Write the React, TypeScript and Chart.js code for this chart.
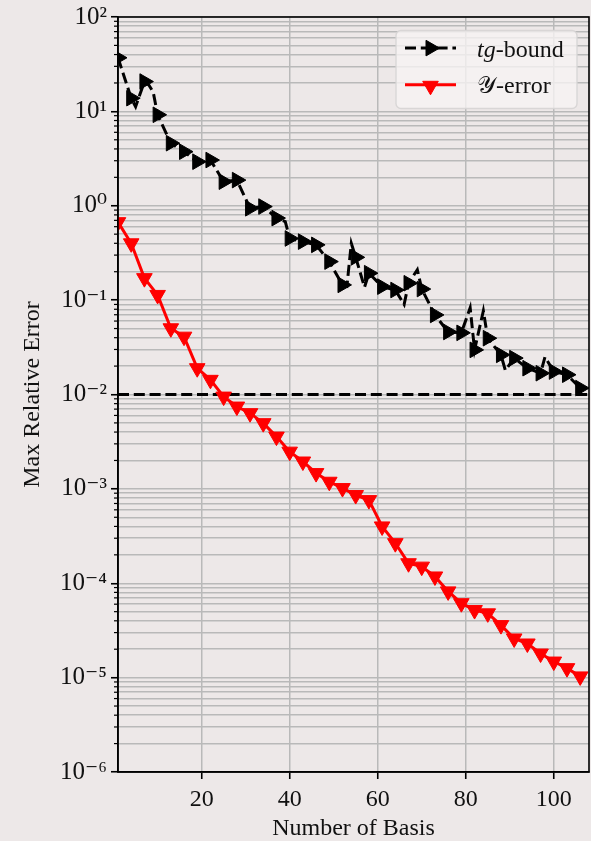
import React, { useEffect, useRef } from 'react';
import { Chart, registerables } from 'chart.js';

Chart.register(...registerables);

// ---------- data ----------
const markerBasis = [1, 4, 7, 10, 13, 16, 19, 22, 25, 28, 31, 34, 37, 40, 43, 46, 49, 52, 55, 58, 61, 64, 67, 70, 73, 76, 79, 82, 85, 88, 91, 94, 97, 100, 103, 106];

const yErrorValues = [0.67, 0.40, 0.171, 0.1135, 0.0503, 0.041, 0.019, 0.0143, 0.0095, 0.00745, 0.00634, 0.00497, 0.00358, 0.00248, 0.00195, 0.00147, 0.00119, 0.00102, 0.00086, 0.00076, 0.00040, 0.000266, 0.000163, 0.000150, 0.000118, 8.2e-5, 6.15e-5, 5.2e-5, 4.8e-5, 3.6e-5, 2.6e-5, 2.3e-5, 1.8e-5, 1.48e-5, 1.26e-5, 1.03e-5];

const tgBasis = [1, 4, 5, 7, 8, 9, 10, 13, 16, 19, 22, 25, 28, 31, 34, 37, 39, 40, 43, 46, 49, 52, 53, 54, 55, 57, 58, 61, 64, 66, 67, 69, 70, 73, 76, 79, 81, 82, 84, 85, 88, 89, 91, 94, 97, 98, 100, 103, 106];
const tgValues = [37, 13.8, 11.2, 20.7, 19, 16, 9.2, 4.6, 3.74, 2.93, 3.05, 1.8, 1.87, 0.94, 0.98, 0.74, 0.68, 0.45, 0.417, 0.385, 0.256, 0.145, 0.14, 0.40, 0.284, 0.137, 0.193, 0.139, 0.128, 0.09, 0.151, 0.21, 0.131, 0.0697, 0.046, 0.045, 0.083, 0.0297, 0.077, 0.0395, 0.0263, 0.018, 0.0243, 0.019, 0.0168, 0.025, 0.0175, 0.0162, 0.0117];

const thresholdValue = 0.01;
const xLimits = [1, 108];
const xTickValues = [20, 40, 60, 80, 100];
const yDecades = [-6, -5, -4, -3, -2, -1, 0, 1, 2];
const yTickLabels = ['10⁻⁶', '10⁻⁵', '10⁻⁴', '10⁻³', '10⁻²', '10⁻¹', '10⁰', '10¹', '10²'];
const yMinorMultipliers = [2, 3, 4, 5, 6, 7, 8, 9];

const xTitle = 'Number of Basis';
const yTitle = 'Max Relative Error';

// ---------- styles ----------
const BG = '#ede8e8';
const GRID = '#b9b9b9';
const FONT = "'Liberation Serif', 'Times New Roman', 'DejaVu Serif', serif";
const DASH = [11, 4.8];
const MARK_R = 9;

function isDecade(v: number) {
  const l = Math.log10(v);
  return Math.abs(l - Math.round(l)) < 1e-9;
}

const bgPlugin = {
  id: 'bg',
  beforeDraw(chart: any) {
    const { ctx, width, height } = chart;
    ctx.save();
    ctx.fillStyle = BG;
    ctx.fillRect(0, 0, width, height);
    ctx.restore();
  },
};

const framePlugin = {
  id: 'frame',
  afterDatasetsDraw(chart: any) {
    const { ctx, chartArea } = chart;
    const y = chart.scales.y;
    ctx.save();
    ctx.strokeStyle = '#000';
    ctx.lineWidth = 1.2;
    y.ticks.forEach((t: any) => {
      if (t.major) return;
      const py = y.getPixelForValue(t.value);
      ctx.beginPath();
      ctx.moveTo(chartArea.left - 4, py);
      ctx.lineTo(chartArea.left, py);
      ctx.stroke();
    });
    ctx.lineWidth = 1.6;
    ctx.strokeRect(chartArea.left, chartArea.top, chartArea.right - chartArea.left, chartArea.bottom - chartArea.top);
    ctx.restore();
  },
};

function drawTri(ctx: CanvasRenderingContext2D, x: number, y: number, r: number, deg: number, color: string) {
  let rad = (deg * Math.PI) / 180;
  ctx.beginPath();
  ctx.moveTo(x + Math.sin(rad) * r, y - Math.cos(rad) * r);
  rad += (2 * Math.PI) / 3;
  ctx.lineTo(x + Math.sin(rad) * r, y - Math.cos(rad) * r);
  rad += (2 * Math.PI) / 3;
  ctx.lineTo(x + Math.sin(rad) * r, y - Math.cos(rad) * r);
  ctx.closePath();
  ctx.fillStyle = color;
  ctx.fill();
  ctx.setLineDash([]);
  ctx.lineWidth = 1;
  ctx.strokeStyle = color;
  ctx.stroke();
}

const legendPlugin = {
  id: 'mplLegend',
  afterDraw(chart: any) {
    const { ctx, chartArea } = chart;
    const w = 181;
    const h = 78;
    const right = chartArea.right - 12;
    const left = right - w;
    const top = chartArea.top + 13.5;
    ctx.save();
    ctx.beginPath();
    (ctx as any).roundRect(left, top, w, h, 5);
    ctx.fillStyle = 'rgba(246,243,243,0.8)';
    ctx.fill();
    ctx.lineWidth = 1.4;
    ctx.strokeStyle = 'rgba(214,212,212,0.9)';
    ctx.stroke();

    const x0 = left + 9;
    const x1 = left + 60;
    const xm = (x0 + x1) / 2;
    const tx = left + 81;
    const y1 = top + 17.6;
    const y2 = top + 54.3;

    ctx.beginPath();
    ctx.setLineDash(DASH);
    ctx.lineWidth = 3;
    ctx.strokeStyle = '#000';
    ctx.moveTo(x0, y1);
    ctx.lineTo(x1, y1);
    ctx.stroke();
    drawTri(ctx, xm, y1, MARK_R, 90, '#000');

    ctx.beginPath();
    ctx.setLineDash([]);
    ctx.lineWidth = 3;
    ctx.strokeStyle = '#ff0000';
    ctx.moveTo(x0, y2);
    ctx.lineTo(x1, y2);
    ctx.stroke();
    drawTri(ctx, xm, y2 + 1, MARK_R, 180, '#ff0000');

    ctx.fillStyle = '#111';
    ctx.textBaseline = 'alphabetic';
    ctx.textAlign = 'left';
    ctx.font = `italic 24px ${FONT}`;
    ctx.fillText('tg', tx, y1 + 8.4);
    const wt = ctx.measureText('tg').width;
    ctx.font = `24px ${FONT}`;
    ctx.fillText('-bound', tx + wt, y1 + 8.4);

    ctx.font = `24px 'DejaVu Serif', 'DejaVu Sans', ${FONT}`;
    ctx.fillText('𝒴', tx, y2 + 8.4);
    const wy = ctx.measureText('𝒴').width;
    ctx.font = `24px ${FONT}`;
    ctx.fillText('-error', tx + wy, y2 + 8.4);
    ctx.restore();
  },
};

export default function App() {
  const ref = useRef<HTMLCanvasElement | null>(null);

  useEffect(() => {
    const canvas = ref.current;
    if (!canvas) return;
    const markerSet = new Set(markerBasis);

    const yTicks: { value: number; major: boolean }[] = [];
    yDecades.forEach((e, i) => {
      yTicks.push({ value: Math.pow(10, e), major: true });
      if (i < yDecades.length - 1) {
        yMinorMultipliers.forEach((m) => yTicks.push({ value: m * Math.pow(10, e), major: false }));
      }
    });

    const chart = new Chart(canvas, {
      type: 'line',
      data: {
        datasets: [
          {
            label: '𝒴-error',
            data: markerBasis.map((x, i) => ({ x, y: yErrorValues[i] })),
            borderColor: '#ff0000',
            backgroundColor: '#ff0000',
            borderWidth: 3,
            pointStyle: 'triangle',
            rotation: 180,
            pointRadius: MARK_R,
            pointBorderWidth: 1,
            pointBackgroundColor: '#ff0000',
            pointBorderColor: '#ff0000',
            tension: 0,
            clip: 0,
            order: 0,
          } as any,
          {
            label: 'tg-bound',
            data: tgBasis.map((x, i) => ({ x, y: tgValues[i] })),
            borderColor: '#000',
            backgroundColor: '#000',
            borderWidth: 3,
            borderDash: DASH,
            pointStyle: 'triangle',
            rotation: 90,
            pointRadius: (c: any) => (markerSet.has(tgBasis[c.dataIndex]) ? MARK_R : 0),
            pointBorderWidth: 1,
            pointBackgroundColor: '#000',
            pointBorderColor: '#000',
            tension: 0,
            clip: 0,
            order: 1,
          } as any,
          {
            label: 'threshold',
            data: xLimits.map((x) => ({ x, y: thresholdValue })),
            borderColor: '#000',
            borderWidth: 3,
            borderDash: DASH,
            pointRadius: 0,
            tension: 0,
            clip: 0,
            order: 2,
          } as any,
        ],
      },
      options: {
        responsive: false,
        devicePixelRatio: 1,
        animation: false,
        events: [],
        layout: { autoPadding: false, padding: { left: 0, right: 2, top: 17, bottom: 0 } },
        plugins: {
          legend: { display: false },
          tooltip: { enabled: false },
        },
        scales: {
          x: {
            type: 'linear',
            min: xLimits[0],
            max: xLimits[1],
            afterBuildTicks: (axis: any) => {
              axis.ticks = xTickValues.map((v) => ({ value: v }));
            },
            afterFit: (scale: any) => {
              scale.height = 69;
              scale.paddingLeft = 0;
              scale.paddingRight = 0;
            },
            grid: {
              color: GRID,
              lineWidth: 1.5,
              tickColor: '#000',
              tickLength: 7,
              tickWidth: 1.6,
            },
            border: { display: true, color: '#000', width: 1.6 },
            ticks: {
              autoSkip: false,
              maxRotation: 0,
              padding: 6,
              color: '#111',
              font: { family: FONT, size: 24 },
            },
            title: {
              display: true,
              text: xTitle,
              color: '#111',
              font: { family: FONT, size: 24, lineHeight: 1 },
              padding: { top: 0, bottom: 0 },
            },
          },
          y: {
            type: 'logarithmic',
            min: Math.pow(10, yDecades[0]),
            max: Math.pow(10, yDecades[yDecades.length - 1]),
            afterBuildTicks: (axis: any) => {
              axis.ticks = yTicks.map((t) => ({ ...t }));
            },
            afterFit: (scale: any) => {
              scale.width = 118;
              scale.paddingTop = 0;
              scale.paddingBottom = 0;
            },
            grid: {
              color: GRID,
              lineWidth: 1.5,
              tickColor: (c: any) => (c.tick && isDecade(c.tick.value) ? '#000' : 'rgba(0,0,0,0)'),
              tickLength: 7,
              tickWidth: 1.6,
            },
            border: { display: true, color: '#000', width: 1.6 },
            ticks: {
              autoSkip: false,
              padding: 4,
              color: '#111',
              font: { family: FONT, size: 25 },
              callback: (value: any) => {
                const v = Number(value);
                if (!isDecade(v)) return '';
                const idx = yDecades.indexOf(Math.round(Math.log10(v)));
                return idx >= 0 ? yTickLabels[idx] : '';
              },
            },
            title: {
              display: true,
              text: yTitle,
              color: '#111',
              font: { family: FONT, size: 24, lineHeight: 1 },
              padding: { top: 21, bottom: 0 },
            },
          },
        },
      } as any,
      plugins: [bgPlugin, framePlugin, legendPlugin],
    });

    return () => chart.destroy();
  }, []);

  return (
    <div style={{ position: 'fixed', left: 0, top: 0, width: 591, height: 841, background: BG }}>
      <canvas ref={ref} width={591} height={841} style={{ display: 'block', width: 591, height: 841 }} />
    </div>
  );
}
